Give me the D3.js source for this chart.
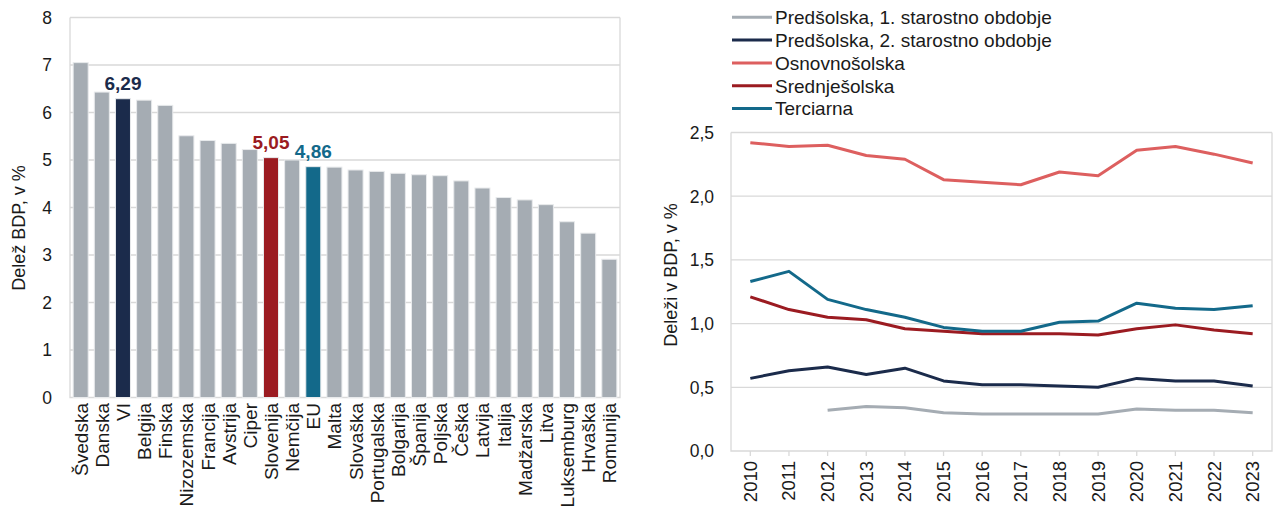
<!DOCTYPE html>
<html>
<head>
<meta charset="utf-8">
<script src="https://cdn.jsdelivr.net/npm/d3@7"></script>
<style>
  body { margin: 0; background: #fff; }
  text { font-family: "Liberation Sans", Arial, sans-serif; fill: #1a1a1a; }
</style>
</head>
<body>
<svg width="1274" height="511"></svg>
<script>
// left chart: spending on education, share of GDP
const countries = ['Švedska', 'Danska', 'VI', 'Belgija', 'Finska', 'Nizozemska', 'Francija', 'Avstrija',
  'Ciper', 'Slovenija', 'Nemčija', 'EU', 'Malta', 'Slovaška', 'Portugalska', 'Bolgarija', 'Španija',
  'Poljska', 'Češka', 'Latvija', 'Italija', 'Madžarska', 'Litva', 'Luksemburg', 'Hrvaška', 'Romunija'];
const shares = [7.05, 6.43, 6.29, 6.26, 6.15, 5.51, 5.41, 5.35, 5.22, 5.05, 5.00, 4.86, 4.85, 4.79,
  4.76, 4.72, 4.69, 4.67, 4.56, 4.41, 4.21, 4.16, 4.06, 3.70, 3.46, 2.91];
const barTicks = [0, 1, 2, 3, 4, 5, 6, 7, 8];

// right chart: by level of education
const years = [2010, 2011, 2012, 2013, 2014, 2015, 2016, 2017, 2018, 2019, 2020, 2021, 2022, 2023];
const seriesNames = ['Predšolska, 1. starostno obdobje', 'Predšolska, 2. starostno obdobje',
  'Osnovnošolska', 'Srednješolska', 'Terciarna'];
const predsolska1 = [null, null, 0.32, 0.35, 0.34, 0.30, 0.29, 0.29, 0.29, 0.29, 0.33, 0.32, 0.32, 0.30];
const predsolska2 = [0.57, 0.63, 0.66, 0.60, 0.65, 0.55, 0.52, 0.52, 0.51, 0.50, 0.57, 0.55, 0.55, 0.51];
const osnovnosolska = [2.42, 2.39, 2.40, 2.32, 2.29, 2.13, 2.11, 2.09, 2.19, 2.16, 2.36, 2.39, 2.33, 2.26];
const srednjesolska = [1.21, 1.11, 1.05, 1.03, 0.96, 0.94, 0.92, 0.92, 0.92, 0.91, 0.96, 0.99, 0.95, 0.92];
const terciarna = [1.33, 1.41, 1.19, 1.11, 1.05, 0.97, 0.94, 0.94, 1.01, 1.02, 1.16, 1.12, 1.11, 1.14];
const lineTicks = [0, 0.5, 1.0, 1.5, 2.0, 2.5];

const grey = '#a5acb3';
const highlight = { 'VI': '#1b2b4b', 'Slovenija': '#9b1b21', 'EU': '#13698a' };
const lineColors = ['#a5acb3', '#1b2b4b', '#dd5f5f', '#9b1b21', '#13698a'];
const gridColor = '#d9d9d9';
const fmt = v => d3.format('.2f')(v).replace('.', ',');
const fmt1 = v => d3.format('.1f')(v).replace('.', ',');

let svg = d3.select('svg');

// ---------- bar chart ----------
let bar = { l: 70, r: 620, t: 17.5, b: 397.5 };

let xBar = d3.scaleBand()
  .domain(countries)
  .range([bar.l, bar.r])
  .paddingInner(0.29)
  .paddingOuter(0.15);

let yBar = d3.scaleLinear()
  .domain([0, 8])
  .range([bar.b, bar.t]);

let barG = svg.append('g');

barG.selectAll('.grid').data(barTicks.slice(1)).enter().append('line')
  .attr('x1', bar.l).attr('x2', bar.r)
  .attr('y1', d => yBar(d)).attr('y2', d => yBar(d))
  .attr('stroke', gridColor).attr('stroke-width', 1.3);

// frame
barG.append('path')
  .attr('d', `M${bar.l},${bar.t}V${bar.b}H${bar.r}V${bar.t}`)
  .attr('fill', 'none').attr('stroke', gridColor).attr('stroke-width', 1.3);

barG.selectAll('.bar').data(countries).enter().append('rect')
  .attr('class', 'bar')
  .attr('x', d => xBar(d))
  .attr('y', (d, i) => yBar(shares[i]))
  .attr('width', xBar.bandwidth())
  .attr('height', (d, i) => yBar(0) - yBar(shares[i]))
  .attr('fill', d => highlight[d] || grey)
  .attr('stroke', '#e8eaec').attr('stroke-width', 1);

// y tick labels
barG.selectAll('.ytick').data(barTicks).enter().append('text')
  .attr('x', 52)
  .attr('y', d => yBar(d))
  .attr('dy', '0.36em')
  .attr('text-anchor', 'end')
  .attr('font-size', '17.5px')
  .text(d => d);

// category labels
barG.selectAll('.xlab').data(countries).enter().append('text')
  .attr('transform', d => `translate(${xBar(d) + xBar.bandwidth() / 2 + 7},403) rotate(-90)`)
  .attr('text-anchor', 'end')
  .attr('font-size', '19px')
  .text(d => d);

// value labels on the highlighted bars
barG.selectAll('.vlab').data(countries.filter(d => highlight[d])).enter().append('text')
  .attr('x', d => xBar(d) + xBar.bandwidth() / 2)
  .attr('y', d => yBar(shares[countries.indexOf(d)]) - 9)
  .attr('text-anchor', 'middle')
  .attr('font-size', '19px')
  .attr('font-weight', 'bold')
  .style('fill', d => highlight[d])
  .text(d => fmt(shares[countries.indexOf(d)]));

barG.append('text')
  .attr('transform', 'translate(25,228) rotate(-90)')
  .attr('text-anchor', 'middle')
  .attr('font-size', '18px')
  .text('Delež BDP, v %');

// ---------- line chart ----------
let ln = { l: 731, r: 1272, t: 132.5, b: 451 };

let xLine = d3.scalePoint()
  .domain(years)
  .range([ln.l, ln.r])
  .padding(0.5);

let yLine = d3.scaleLinear()
  .domain([0, 2.5])
  .range([ln.b, ln.t]);

let lineG = svg.append('g');

lineG.selectAll('.grid').data(lineTicks.slice(1)).enter().append('line')
  .attr('x1', ln.l).attr('x2', ln.r)
  .attr('y1', d => yLine(d)).attr('y2', d => yLine(d))
  .attr('stroke', gridColor).attr('stroke-width', 1.3);

lineG.append('path')
  .attr('d', `M${ln.l},${ln.t}V${ln.b}H${ln.r}V${ln.t}`)
  .attr('fill', 'none').attr('stroke', gridColor).attr('stroke-width', 1.3);

lineG.selectAll('.xtick').data(years).enter().append('line')
  .attr('x1', d => xLine(d)).attr('x2', d => xLine(d))
  .attr('y1', ln.b).attr('y2', ln.b + 5)
  .attr('stroke', gridColor).attr('stroke-width', 1.3);

lineG.selectAll('.ytick').data(lineTicks).enter().append('text')
  .attr('x', 714)
  .attr('y', d => yLine(d))
  .attr('dy', '0.36em')
  .attr('text-anchor', 'end')
  .attr('font-size', '17.5px')
  .text(d => fmt1(d));

lineG.selectAll('.xlab').data(years).enter().append('text')
  .attr('transform', d => `translate(${xLine(d) + 6.5},461) rotate(-90)`)
  .attr('text-anchor', 'end')
  .attr('font-size', '18.5px')
  .text(d => d);

lineG.append('text')
  .attr('transform', 'translate(677,275) rotate(-90)')
  .attr('text-anchor', 'middle')
  .attr('font-size', '18px')
  .text('Deleži v BDP, v %');

let series = [predsolska1, predsolska2, osnovnosolska, srednjesolska, terciarna];

let line = d3.line()
  .defined(d => d.v != null)
  .x(d => xLine(d.year))
  .y(d => yLine(d.v));

lineG.selectAll('.series').data(series).enter().append('path')
  .attr('fill', 'none')
  .attr('stroke', (d, i) => lineColors[i])
  .attr('stroke-width', 3)
  .attr('stroke-linejoin', 'round')
  .attr('d', d => line(d.map((v, i) => ({ year: years[i], v: v }))));

// legend
let legend = svg.append('g').attr('class', 'legend');
let rows = legend.selectAll('g').data(seriesNames).enter().append('g')
  .attr('transform', (d, i) => `translate(732,${17.3 + i * 22.8})`);
rows.append('line')
  .attr('x1', 0).attr('x2', 40)
  .attr('stroke', (d, i) => lineColors[i])
  .attr('stroke-width', 3);
rows.append('text')
  .attr('x', 43)
  .attr('dy', '0.36em')
  .attr('font-size', '19px')
  .text(d => d);
</script>
</body>
</html>
